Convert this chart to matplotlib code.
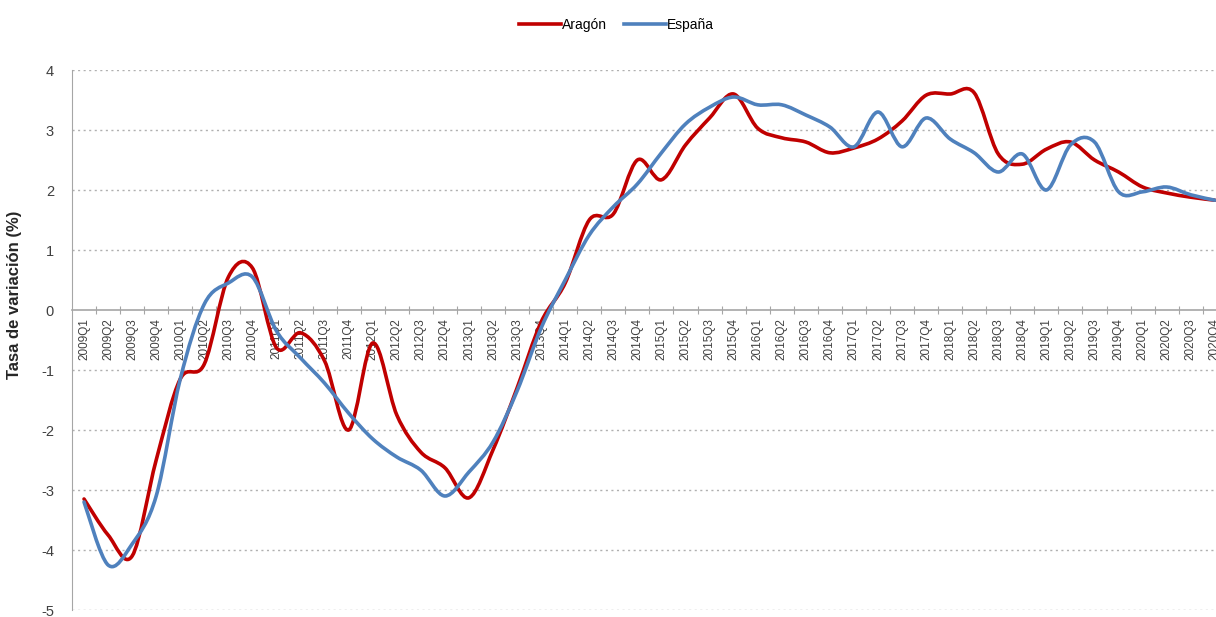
import numpy as np
import matplotlib
matplotlib.use("Agg")
import matplotlib.pyplot as plt
from matplotlib.path import Path
from matplotlib.patches import PathPatch
from matplotlib.lines import Line2D

plt.rcParams['font.family'] = ['Liberation Sans', 'DejaVu Sans']
plt.rcParams['axes.unicode_minus'] = False

years = list(range(2009, 2021))
quarters = [f"{y}Q{q}" for y in years for q in range(1, 5)]

aragon = [-3.15, -3.75, -4.1, -2.5, -1.15, -0.9, 0.55, 0.7,
          -0.63, -0.38, -0.85, -2.0, -0.55, -1.75, -2.37, -2.63,
          -3.13, -2.33, -1.3, -0.2, 0.45, 1.5, 1.6, 2.5,
          2.17, 2.75, 3.2, 3.6, 3.03, 2.87, 2.8, 2.62,
          2.7, 2.85, 3.15, 3.58, 3.6, 3.62, 2.6, 2.43,
          2.68, 2.8, 2.5, 2.3, 2.05, 1.95, 1.88, 1.83]
espana = [-3.2, -4.25, -3.9, -3.1, -1.15, 0.1, 0.45, 0.55,
          -0.35, -0.8, -1.22, -1.72, -2.15, -2.45, -2.67, -3.1,
          -2.7, -2.2, -1.35, -0.3, 0.5, 1.25, 1.72, 2.1,
          2.62, 3.1, 3.38, 3.55, 3.42, 3.42, 3.25, 3.05,
          2.72, 3.3, 2.72, 3.2, 2.85, 2.62, 2.3, 2.6,
          2.0, 2.75, 2.8, 1.97, 1.97, 2.05, 1.92, 1.83]

RED = '#C00000'
BLUE = '#4F81BD'


def smooth_path(x, y):
    # spreadsheet-style smoothed line: cubic bezier through every point
    p = np.column_stack([x, y]).astype(float)
    n = len(p)
    verts = [p[0]]
    codes = [Path.MOVETO]
    for i in range(n - 1):
        p0 = p[i - 1] if i > 0 else p[i]
        p3 = p[i + 2] if i + 2 < n else p[i + 1]
        c1 = p[i] + (p[i + 1] - p0) / 6.0
        c2 = p[i + 1] - (p3 - p[i]) / 6.0
        verts += [c1, c2, p[i + 1]]
        codes += [Path.CURVE4] * 3
    return Path(verts, codes)


fig = plt.figure(figsize=(12.16, 6.17), dpi=100)
ax = fig.add_axes([72 / 1216, 7 / 617, 1 - 72 / 1216, 540 / 617])

x = np.arange(len(quarters))
for vals, col in [(aragon, RED), (espana, BLUE)]:
    ax.add_patch(PathPatch(smooth_path(x, vals), facecolor='none',
                           edgecolor=col, lw=2.6, capstyle='round',
                           joinstyle='round', zorder=3))

for v in range(-5, 5):
    if v != 0:
        ax.axhline(v, color='#b0b0b0', lw=1, ls=(0, (1.5, 2.5)), zorder=1)

for s in ['top', 'right']:
    ax.spines[s].set_visible(False)
ax.spines['left'].set_color('#a6a6a6')
ax.spines['bottom'].set_position(('data', 0))
ax.spines['bottom'].set_color('#a6a6a6')
ax.spines['bottom'].set_linewidth(1.2)

ax.set_xticks(x + 0.5)
ax.set_xticklabels([])
ax.tick_params(axis='x', which='major', direction='inout', length=6,
               color='#a6a6a6')
ax.set_xticks(x, minor=True)
ax.set_xticklabels(quarters, minor=True, rotation=90, fontsize=8.5,
                   color='#404040', va='top')
ax.tick_params(axis='x', which='minor', length=0, pad=6)
ax.set_yticks(range(-5, 5))
ax.tick_params(axis='y', length=0, pad=13, labelsize=10.5,
               labelcolor='#404040')

# limits after the ticks, so the tick positions do not widen the view
ax.set_xlim(-0.5, 47.05)
ax.set_ylim(-5, 4)

ax.set_ylabel('Tasa de variación (%)', fontsize=12, fontweight='bold',
              color='#262626')
ax.yaxis.set_label_coords(-0.044, 0.583)

handles = [Line2D([], [], color=RED, lw=2.6), Line2D([], [], color=BLUE, lw=2.6)]
fig.legend(handles, ['Aragón', 'España'], loc='center', ncol=2,
           bbox_to_anchor=(0.507, 0.96), frameon=False, fontsize=10,
           handlelength=3, handletextpad=0.1, columnspacing=1.2)

fig.savefig('out.png', dpi=100)
